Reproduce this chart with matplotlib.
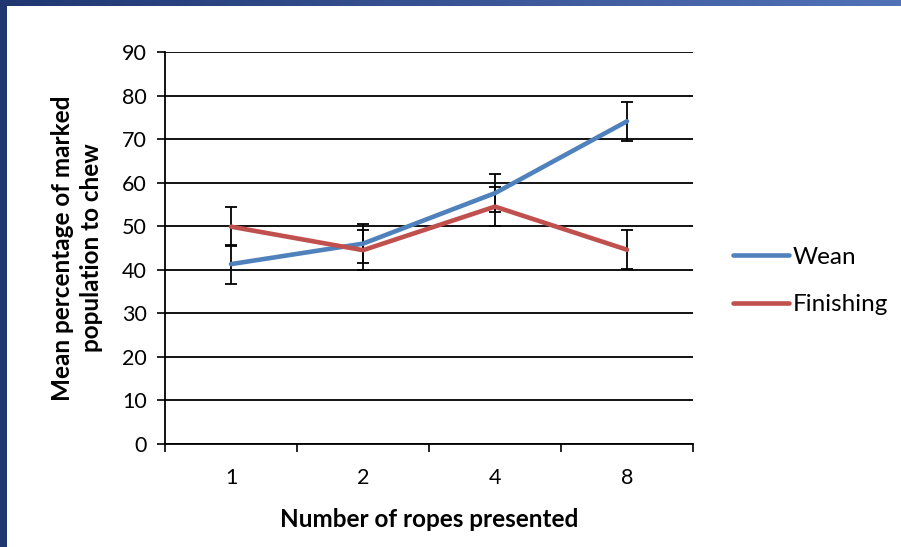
import numpy as np
import matplotlib
matplotlib.use("Agg")
import matplotlib.pyplot as plt
from matplotlib.colors import LinearSegmentedColormap

plt.rcParams["font.family"] = ["Lato", "DejaVu Sans"]

categories = ["1", "2", "4", "8"]
wean = [41.3, 46.0, 57.6, 74.1]
wean_err = [4.5, 4.5, 4.4, 4.5]
finishing = [49.9, 44.5, 54.5, 44.6]
finishing_err = [4.5, 4.6, 4.5, 4.5]

BLUE = "#4F81BD"
RED = "#C0504D"
W, H = 901, 547

fig = plt.figure(figsize=(W / 100, H / 100), dpi=100)
fig.patch.set_facecolor("white")

# slide frame: dark strip on the left, gradient strip on top
left_strip = fig.add_axes([0, 0, 7 / W, 1])
left_strip.axis("off")
left_strip.add_patch(plt.Rectangle((0, 0), 1, 1, color="#1F3671", transform=left_strip.transAxes))
top_strip = fig.add_axes([0, 1 - 6 / H, 1, 6 / H])
top_strip.axis("off")
grad = LinearSegmentedColormap.from_list("g", ["#1F3671", "#5272B8"])
top_strip.imshow(np.linspace(0, 1, 256)[None, :], aspect="auto", cmap=grad, extent=(0, 1, 0, 1))

ax = fig.add_axes([165 / W, 103 / H, 528 / W, 392 / H])
x = np.arange(len(categories))

ax.errorbar(x, wean, yerr=wean_err, fmt="none", ecolor="black", elinewidth=1.3,
            capsize=4, capthick=1.3, zorder=3)
ax.errorbar(x, finishing, yerr=finishing_err, fmt="none", ecolor="black", elinewidth=1.3,
            capsize=4, capthick=1.3, zorder=3)
ax.plot(x, wean, color=BLUE, lw=3.3, solid_capstyle="round", solid_joinstyle="round",
        label="Wean", zorder=4)
ax.plot(x, finishing, color=RED, lw=3.3, solid_capstyle="round", solid_joinstyle="round",
        label="Finishing", zorder=5)

ax.set_xlim(-0.5, len(categories) - 0.5)
ax.set_ylim(0, 90)
ax.set_yticks(np.arange(0, 91, 10))
ax.yaxis.grid(True, color="black", lw=1.3)
ax.set_axisbelow(True)
ax.set_xticks(np.arange(-0.5, len(categories), 1))
ax.set_xticklabels([])
ax.set_xticks(x, minor=True)
ax.set_xticklabels(categories, minor=True)
ax.tick_params(axis="x", which="major", length=6, width=1.2, color="black")
ax.tick_params(axis="x", which="minor", length=0, pad=17, labelsize=15.5)
ax.tick_params(axis="y", length=6, width=1.2, pad=7, labelsize=15.5)

for side in ["top", "right"]:
    ax.spines[side].set_visible(False)
for side in ["left", "bottom"]:
    ax.spines[side].set_linewidth(1.3)

ax.set_xlabel("Number of ropes presented", fontsize=17.5, fontweight="bold", labelpad=15)
ax.set_ylabel("Mean percentage of marked\npopulation to chew", fontsize=17.5,
              fontweight="bold", labelpad=14, linespacing=1.3)

ax.legend(loc="center left", bbox_to_anchor=(733 / W, 1 - 281 / H), bbox_transform=fig.transFigure,
          frameon=False, fontsize=17.5, handlelength=2.3, handletextpad=0.15, labelspacing=1.1,
          borderpad=0, borderaxespad=0)

fig.savefig("out.png", dpi=100)
